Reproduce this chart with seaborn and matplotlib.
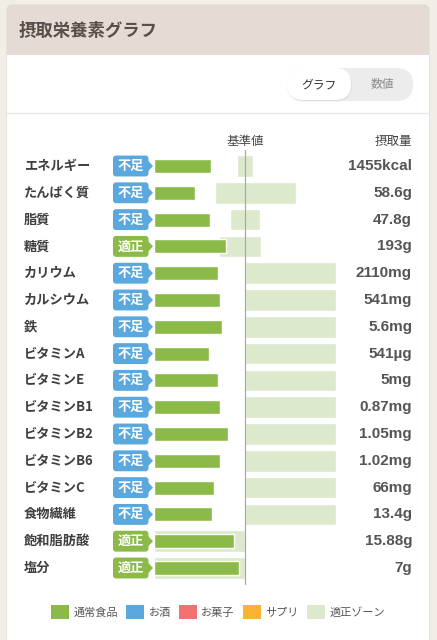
import matplotlib
matplotlib.use("Agg")
import matplotlib.pyplot as plt
import matplotlib.transforms as mtransforms
from matplotlib.patches import FancyBboxPatch, Polygon, Patch, Rectangle
import pandas as pd
import seaborn as sns

# nutrients, top to bottom
nutrients = ["エネルギー", "たんぱく質", "脂質", "糖質", "カリウム", "カルシウム", "鉄",
             "ビタミンA", "ビタミンE", "ビタミンB1", "ビタミンB2", "ビタミンB6",
             "ビタミンC", "食物繊維", "飽和脂肪酸", "塩分"]
# intake as % of the reference value (基準値 = 100)
intake_pct = [63, 45, 62, 79, 70, 72, 75, 60, 70, 72.5, 81, 72.5, 66, 64, 88, 93]
# appropriate zone (low, high) in the same % scale
zone_lo = [91, 67, 83.5, 71, 100, 100, 100, 100, 100, 100, 100, 100, 100, 100, 0, 0]
zone_hi = [109, 156, 116, 118, 200, 200, 200, 200, 200, 200, 200, 200, 200, 200, 100, 100]
status = ["不足", "不足", "不足", "適正", "不足", "不足", "不足", "不足", "不足",
          "不足", "不足", "不足", "不足", "不足", "適正", "適正"]
amounts = ["1455kcal", "58.6g", "47.8g", "193g", "2110mg", "541mg", "5.6mg", "541µg",
           "5mg", "0.87mg", "1.05mg", "1.02mg", "66mg", "13.4g", "15.88g", "7g"]
legend_labels = ["通常食品", "お酒", "お菓子", "サプリ", "適正ゾーン"]

GREEN = "#8cba48"
BLUE = "#5ba8de"
RED = "#f17272"
ORANGE = "#f8b335"
ZONE = "#dde9cc"
legend_colors = [GREEN, BLUE, RED, ORANGE, ZONE]
status_colors = {"不足": BLUE, "適正": GREEN}

sns.set_theme(style="white")
plt.rcParams["font.family"] = ["Noto Sans CJK JP", "DejaVu Sans"]

df = pd.DataFrame({"nutrient": nutrients, "pct": intake_pct})

W, H = 437, 640
fig = plt.figure(figsize=(W / 100, H / 100), dpi=100)
fig.patch.set_facecolor("#f1ede7")

# background axes in pixel units for the card decorations
bg = fig.add_axes([0, 0, 1, 1])
bg.set_xlim(0, W)
bg.set_ylim(H, 0)
bg.axis("off")
bg.add_patch(FancyBboxPatch((7, 5), 422, 650, boxstyle="round,pad=0,rounding_size=6",
                            facecolor="#e5dbd4", edgecolor="#e0dad3", lw=0.8))
bg.add_patch(Rectangle((7.4, 55), 421.2, 600, facecolor="white", edgecolor="none"))
bg.plot([7.4, 428.6], [113, 113], color="#e8e8e8", lw=1)
bg.text(19, 31, "摂取栄養素グラフ", fontsize=12.5, fontweight="bold", color="#564f4d",
        va="center", ha="left")

# toggle
bg.add_patch(FancyBboxPatch((287, 68), 126, 33, boxstyle="round,pad=0,rounding_size=16.5",
                            facecolor="#ececec", edgecolor="none"))
bg.add_patch(FancyBboxPatch((288, 69.5), 64, 32, boxstyle="round,pad=0,rounding_size=16",
                            facecolor="#d9d9d9", edgecolor="none", alpha=0.6))
bg.add_patch(FancyBboxPatch((287, 68), 64, 32, boxstyle="round,pad=0,rounding_size=16",
                            facecolor="white", edgecolor="none"))
bg.text(319, 84.5, "グラフ", fontsize=8.5, color="#333333", ha="center", va="center")
bg.text(382, 84.5, "数値", fontsize=8.5, color="#8a8a8a", ha="center", va="center")

bg.text(245, 141, "基準値", fontsize=9, color="#444444", ha="center", va="center")
bg.text(412, 141, "摂取量", fontsize=9, color="#444444", ha="right", va="center")

# chart axes: x in % of reference value
top_px, row_px = 152.6, 26.8
ax = fig.add_axes([154 / W, 1 - (top_px + row_px * len(nutrients)) / H,
                   182 / W, row_px * len(nutrients) / H])
ax.patch.set_alpha(0)

sns.barplot(data=df, x="pct", y="nutrient", orient="h", color=GREEN, saturation=1,
            width=0.52, ax=ax, zorder=3)
ax.barh(range(len(nutrients)), [h - l for l, h in zip(zone_lo, zone_hi)], left=zone_lo,
        height=0.8, color=ZONE, zorder=1)
ax.axvline(100, color="#a9a9a9", lw=0.9, zorder=2, ymin=-0.005, ymax=1.005, clip_on=False)
ax.set_xlim(0, 200)
ax.set_ylim(len(nutrients) - 0.5, -0.5)
ax.axis("off")

blend = mtransforms.blended_transform_factory(bg.transData, ax.transData)
for i, (name, st, amt) in enumerate(zip(nutrients, status, amounts)):
    ax.text(24, i, name, transform=blend, fontsize=9.5, fontweight="bold", color="#3f3f3f",
            ha="left", va="center")
    ax.text(412, i, amt, transform=blend, fontsize=11, fontweight="bold", color="#555555",
            ha="right", va="center", family=["Liberation Sans", "DejaVu Sans"])
    c = status_colors[st]
    ax.add_patch(FancyBboxPatch((113, i - 0.39), 35.5, 0.78,
                                boxstyle="round,pad=0,rounding_size=3",
                                mutation_aspect=1 / row_px, transform=blend,
                                facecolor=c, edgecolor="none", clip_on=False))
    ax.add_patch(Polygon([(148, i - 0.2), (153, i), (148, i + 0.2)], closed=True,
                         transform=blend, facecolor=c, edgecolor="none", clip_on=False))
    ax.text(130.5, i, st, transform=blend, fontsize=9.5, fontweight="bold", color="white",
            ha="center", va="center")

handles = [Patch(facecolor=c, edgecolor="none") for c in legend_colors]
fig.legend(handles, legend_labels, loc="center", bbox_to_anchor=(218 / W, 1 - 612 / H),
           ncol=5, frameon=False, fontsize=8, handlelength=1.6, handleheight=1.6,
           handletextpad=0.4, columnspacing=0.75, labelcolor="#555555")

fig.savefig("out.png", dpi=100, facecolor=fig.get_facecolor())
